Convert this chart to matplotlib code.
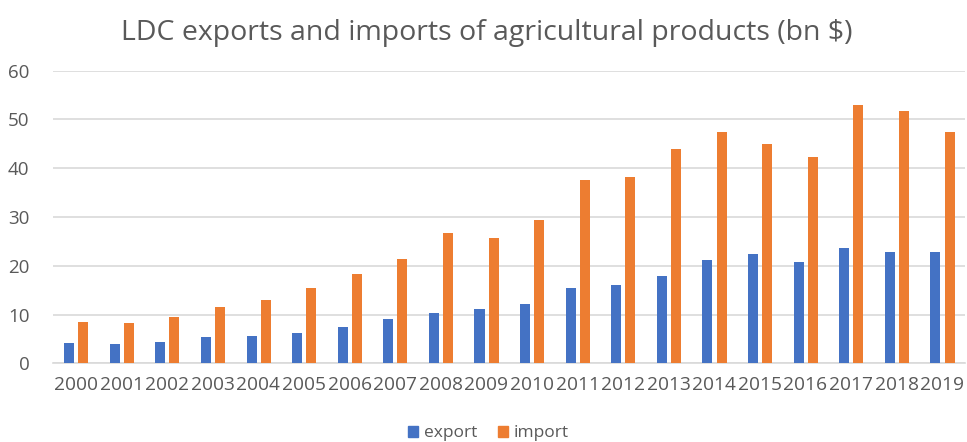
import numpy as np
import matplotlib.pyplot as plt
from matplotlib.patches import Patch

plt.rcParams['font.family'] = ['Open Sans', 'DejaVu Sans']

# LDC agricultural trade, bn $
years = [str(y) for y in range(2000, 2020)]
export = [4.1, 3.9, 4.4, 5.3, 5.7, 6.3, 7.5, 9.0, 10.3, 11.1,
          12.2, 15.4, 16.1, 18.0, 21.1, 22.4, 20.7, 23.6, 22.8, 22.8]
imports = [8.5, 8.2, 9.4, 11.6, 12.9, 15.4, 18.3, 21.3, 26.8, 25.8,
           29.3, 37.6, 38.3, 43.9, 47.4, 45.0, 42.4, 53.0, 51.7, 47.4]

BLUE = "#4472C4"
ORANGE = "#ED7D31"
GREY = "#595959"

fig = plt.figure(figsize=(9.67, 4.42), dpi=100)
ax = fig.add_axes([0.055, 0.178, 0.943, 0.662])

x = np.arange(len(years))
w = 0.22
ax.bar(x - 0.15, export, width=w, color=BLUE, zorder=3)
ax.bar(x + 0.16, imports, width=w, color=ORANGE, zorder=3)

ax.set_xlim(-0.5, len(years) - 0.5)
ax.set_ylim(0, 60)
ax.set_yticks(range(0, 61, 10))
ax.yaxis.grid(True, color="#D9D9D9", linewidth=1.2, zorder=0)
ax.set_xticks(x)
ax.set_xticklabels(years)
ax.tick_params(axis="both", length=0, colors=GREY)
ax.tick_params(axis="y", pad=17, labelsize=13.5)
ax.tick_params(axis="x", pad=9, labelsize=13.8)
for side in ["top", "right", "left"]:
    ax.spines[side].set_visible(False)
ax.spines["bottom"].set_color("#D9D9D9")
ax.spines["bottom"].set_linewidth(1.2)

fig.text(0.503, 0.925, "LDC exports and imports of agricultural products (bn $)",
         ha="center", va="center", fontsize=20.5, color=GREY)

handles = [Patch(color=BLUE, label="export"), Patch(color=ORANGE, label="import")]
fig.legend(handles=handles, loc="center", bbox_to_anchor=(0.505, 0.02), ncol=2,
           frameon=False, fontsize=12.5, handlelength=0.6, handleheight=0.6,
           handletextpad=0.3, columnspacing=1.2, labelcolor=GREY)

fig.savefig("out.png", dpi=100)
